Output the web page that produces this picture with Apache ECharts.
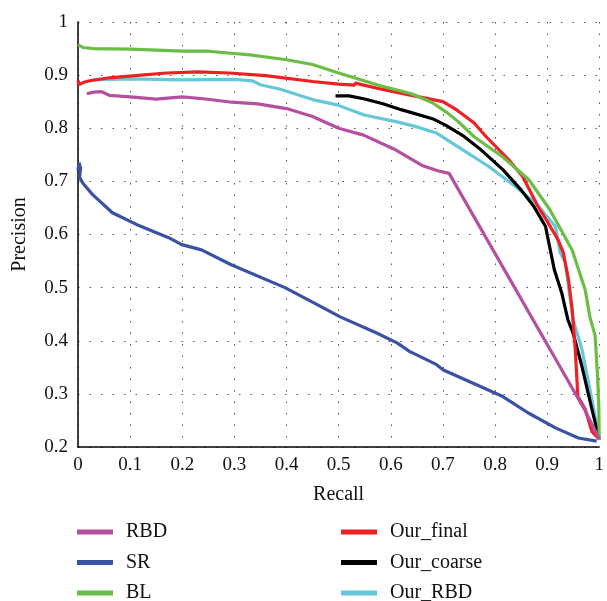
<!DOCTYPE html>
<html>
<head>
<meta charset="utf-8">
<script src="https://cdn.jsdelivr.net/npm/echarts@6/dist/echarts.min.js"></script>
<style>html,body{margin:0;padding:0;background:#fff}#c{width:607px;height:601px}</style>
</head>
<body>
<div id="c"></div>
<script>
var seriesNames = ['RBD', 'SR', 'BL', 'Our_final', 'Our_coarse', 'Our_RBD'];
var seriesColors = ['#b5509f', '#3a52a4', '#6abd45', '#ee2024', '#000000', '#67c7d9'];

var RBD = [[0.017,0.865],[0.03,0.868],[0.045,0.869],[0.06,0.862],[0.1,0.859],[0.15,0.855],[0.2,0.859],[0.245,0.855],[0.295,0.849],[0.345,0.846],[0.4,0.837],[0.45,0.822],[0.5,0.8],[0.548,0.787],[0.61,0.759],[0.66,0.73],[0.69,0.72],[0.712,0.715],[0.972,0.27],[0.99,0.235],[1.0,0.215]];
var SR = [[0.0,0.72],[0.002,0.735],[0.005,0.725],[0.003,0.708],[0.009,0.697],[0.028,0.675],[0.066,0.641],[0.112,0.619],[0.174,0.594],[0.199,0.581],[0.237,0.571],[0.294,0.543],[0.397,0.5],[0.459,0.468],[0.503,0.445],[0.574,0.414],[0.612,0.396],[0.636,0.38],[0.688,0.355],[0.701,0.345],[0.758,0.32],[0.815,0.295],[0.864,0.264],[0.916,0.236],[0.96,0.217],[0.995,0.211]];
var BL = [[0,0.957],[0.01,0.952],[0.03,0.95],[0.1,0.949],[0.2,0.945],[0.25,0.945],[0.33,0.938],[0.4,0.929],[0.45,0.92],[0.5,0.904],[0.58,0.88],[0.64,0.865],[0.68,0.848],[0.71,0.828],[0.73,0.812],[0.76,0.784],[0.815,0.746],[0.865,0.703],[0.905,0.647],[0.948,0.571],[0.973,0.496],[0.982,0.445],[0.992,0.41],[0.997,0.33],[0.999,0.28],[1.0,0.213]];
var OurFinal = [[0,0.89],[0.002,0.882],[0.01,0.886],[0.02,0.889],[0.06,0.895],[0.11,0.899],[0.17,0.904],[0.23,0.906],[0.29,0.904],[0.36,0.899],[0.45,0.888],[0.5,0.883],[0.53,0.881],[0.532,0.885],[0.58,0.874],[0.64,0.862],[0.7,0.85],[0.726,0.835],[0.76,0.81],[0.783,0.784],[0.826,0.741],[0.853,0.709],[0.883,0.652],[0.9,0.625],[0.921,0.59],[0.931,0.566],[0.941,0.515],[0.948,0.46],[0.954,0.383],[0.959,0.295],[0.965,0.285],[0.973,0.271],[0.986,0.229],[1.0,0.215]];
var OurCoarse = [[0.494,0.861],[0.52,0.861],[0.55,0.855],[0.585,0.846],[0.62,0.835],[0.68,0.818],[0.705,0.806],[0.74,0.785],[0.77,0.762],[0.815,0.722],[0.85,0.684],[0.875,0.652],[0.897,0.615],[0.9,0.6],[0.914,0.533],[0.928,0.49],[0.94,0.439],[0.95,0.414],[0.967,0.351],[0.986,0.271],[1.0,0.215]];
var OurRBD = [[0.03,0.891],[0.1,0.893],[0.2,0.891],[0.3,0.892],[0.335,0.889],[0.35,0.882],[0.39,0.873],[0.45,0.854],[0.497,0.844],[0.549,0.825],[0.612,0.812],[0.645,0.804],[0.688,0.791],[0.739,0.759],[0.788,0.728],[0.84,0.69],[0.878,0.659],[0.916,0.615],[0.925,0.566],[0.935,0.547],[0.941,0.502],[0.95,0.439],[0.967,0.383],[0.986,0.289],[1.0,0.213]];

var seriesData = [RBD, SR, BL, OurFinal, OurCoarse, OurRBD];
var fontFam = '"Liberation Serif", "DejaVu Serif", serif';

var chart = echarts.init(document.getElementById('c'));
var series = seriesNames.map(function (n, i) {
  return {
    name: n, type: 'line', data: seriesData[i], showSymbol: false, symbol: 'none',
    lineStyle: { color: seriesColors[i], width: 3.2 }, itemStyle: { color: seriesColors[i] },
    z: 10 - i, animation: false
  };
});
var legendCommon = {
  orient: 'vertical', icon: 'rect', itemWidth: 36, itemHeight: 5, itemGap: 10.5,
  padding: 0,
  textStyle: { fontFamily: fontFam, fontSize: 20, color: '#111', padding: [0, 0, 0, 8] },
  top: 522, height: 100, width: 250
};
chart.setOption({
  backgroundColor: '#fff',
  animation: false,
  grid: { left: 78, right: 3, top: 22, bottom: 154, containLabel: false },
  legend: [
    Object.assign({ left: 77, data: ['RBD', 'SR', 'BL'] }, legendCommon),
    Object.assign({ left: 341, data: ['Our_final', 'Our_coarse', 'Our_RBD'] }, legendCommon)
  ],
  xAxis: {
    type: 'value', min: 0, max: 1, interval: 0.1,
    name: 'Recall', nameLocation: 'middle', nameGap: 38,
    nameTextStyle: { fontFamily: fontFam, fontSize: 20, color: '#111' },
    axisLine: { show: true, lineStyle: { color: '#000', width: 1.5 } },
    axisTick: { show: false },
    axisLabel: { fontFamily: fontFam, fontSize: 19, color: '#111', margin: 9 },
    splitLine: { show: true, lineStyle: { color: '#555', width: 1, type: [1.5, 10] } }
  },
  yAxis: {
    type: 'value', min: 0.2, max: 1, interval: 0.1,
    name: 'Precision', nameLocation: 'middle', nameGap: 48,
    nameTextStyle: { fontFamily: fontFam, fontSize: 20, color: '#111' },
    axisLine: { show: true, lineStyle: { color: '#000', width: 1.5 } },
    axisTick: { show: false },
    axisLabel: { fontFamily: fontFam, fontSize: 19, color: '#111', margin: 10 },
    splitLine: { show: true, lineStyle: { color: '#555', width: 1, type: [1.5, 10] } }
  },
  series: series
});
</script>
</body>
</html>
